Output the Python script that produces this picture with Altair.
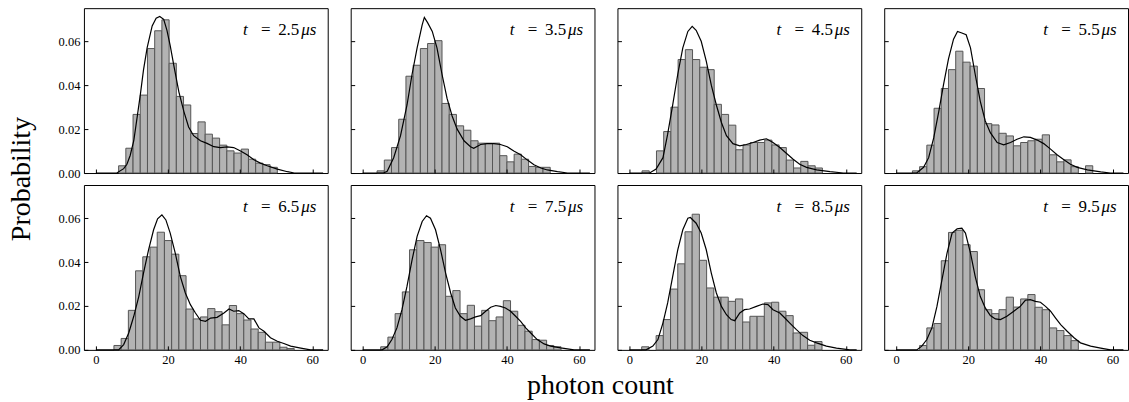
import altair as alt
import pandas as pd

# ---------------- data ----------------
times = ["2.5", "3.5", "4.5", "5.5", "6.5", "7.5", "8.5", "9.5"]
bin_width = 2.0
bin_starts = [6.3, 4.0, 3.5, 4.5, 5.0, 5.0, 3.4, 6.5]

heights_t25 = [0.0033, 0.0113, 0.0267, 0.0355, 0.0567, 0.0648, 0.0698, 0.050, 0.0349, 0.031,
               0.018, 0.0233, 0.0177, 0.0159, 0.0127, 0.0101, 0.0091, 0.0109, 0.0063, 0.0045,
               0.0038, 0.0026]
heights_t35 = [0.001, 0.0059, 0.0116, 0.0245, 0.0441, 0.0491, 0.0567, 0.059, 0.0603, 0.0317,
               0.0267, 0.0215, 0.0195, 0.0147, 0.0136, 0.0136, 0.0136, 0.0079, 0.0051, 0.0086,
               0.0063, 0.003, 0.0026, 0.0026]
heights_t45 = [0.001, 0.0, 0.0101, 0.0189, 0.030, 0.0517, 0.0562, 0.0517, 0.0482, 0.0471,
               0.0313, 0.0267, 0.0218, 0.0106, 0.0128, 0.0139, 0.0139, 0.015, 0.0128, 0.0116,
               0.0059, 0.0023, 0.0053, 0.0033, 0.0023]
heights_t55 = [0.001, 0.0029, 0.0127, 0.0295, 0.0385, 0.0471, 0.0555, 0.0505, 0.0487, 0.0385,
               0.0225, 0.0219, 0.0181, 0.0169, 0.0124, 0.0139, 0.0147, 0.0154, 0.0174, 0.0083,
               0.0051, 0.006, 0.0029, 0.0, 0.0033]
heights_t65 = [0.002, 0.0052, 0.018, 0.036, 0.0424, 0.0468, 0.0536, 0.0498, 0.0436, 0.0338,
               0.0186, 0.0141, 0.015, 0.0188, 0.0174, 0.0114, 0.0202, 0.0165, 0.0136, 0.0095,
               0.008, 0.0035, 0.0035, 0.0012, 0.0006]
heights_t75 = [0.0014, 0.0058, 0.0165, 0.0264, 0.0456, 0.0498, 0.0489, 0.0468, 0.0479, 0.0244,
               0.027, 0.0165, 0.0203, 0.0108, 0.018, 0.0133, 0.015, 0.0224, 0.0176, 0.0112,
               0.0085, 0.0047, 0.0044, 0.002, 0.0014]
heights_t85 = [0.0014, 0.0, 0.0065, 0.0138, 0.0277, 0.0392, 0.0538, 0.0618, 0.0408, 0.0282,
               0.024, 0.024, 0.0221, 0.0232, 0.0127, 0.0153, 0.0153, 0.0214, 0.0217, 0.0176,
               0.0156, 0.0077, 0.008, 0.0021, 0.0038]
heights_t95 = [0.002, 0.01, 0.012, 0.0406, 0.0535, 0.0545, 0.0479, 0.0448, 0.0274, 0.0183,
               0.0165, 0.0183, 0.024, 0.0195, 0.0232, 0.0252, 0.0194, 0.0183, 0.01, 0.0088,
               0.0065, 0.0042]
heights = [heights_t25, heights_t35, heights_t45, heights_t55,
           heights_t65, heights_t75, heights_t85, heights_t95]

curve_t25 = [(0, 0), (5.8, 0), (7.7, 0.002), (8.6, 0.004), (9.5, 0.008), (10.5, 0.0147),
             (11.4, 0.025), (12.3, 0.0355), (13.2, 0.047), (14.2, 0.057), (15.6, 0.067),
             (16.7, 0.0705), (17.7, 0.0713), (18.8, 0.070), (19.7, 0.065), (20.6, 0.058),
             (21.6, 0.049), (23.0, 0.037), (24.4, 0.028), (25.7, 0.021), (27.1, 0.017),
             (29.0, 0.0147), (30.8, 0.0135), (32.7, 0.012), (34.5, 0.0116), (36.4, 0.0119),
             (38.2, 0.0116), (40.1, 0.010), (41.9, 0.0083), (43.8, 0.006), (45.6, 0.0045),
             (47.5, 0.0033), (50.3, 0.0018), (53.1, 0.0006), (55.0, 0.0), (63, 0)]
curve_t35 = [(0, 0), (5.8, 0), (6.8, 0.0008), (8.6, 0.007), (10.5, 0.017), (12.3, 0.031),
             (13.7, 0.045), (15.1, 0.057), (16.5, 0.0675), (17.1, 0.0709), (18.0, 0.0685),
             (19.3, 0.0645), (20.6, 0.057), (22.0, 0.045), (23.4, 0.034), (24.8, 0.026),
             (26.2, 0.020), (28.1, 0.0147), (29.9, 0.012), (30.8, 0.0113), (32.7, 0.013),
             (34.5, 0.0134), (36.4, 0.0134), (38.2, 0.013), (40.1, 0.012), (41.9, 0.010),
             (43.8, 0.0083), (45.6, 0.006), (47.5, 0.0038), (49.4, 0.0023), (51.2, 0.0014),
             (54.0, 0.0006), (56.8, 0), (63, 0)]
curve_t45 = [(0, 0), (5.6, 0), (7.4, 0.0018), (9.3, 0.007), (10.6, 0.0177), (12.0, 0.031),
             (13.4, 0.045), (14.8, 0.057), (16.2, 0.0645), (17.4, 0.0668), (18.5, 0.065),
             (19.9, 0.060), (21.3, 0.051), (22.7, 0.040), (24.1, 0.031), (25.5, 0.023),
             (26.9, 0.017), (28.7, 0.0134), (30.6, 0.0124), (32.4, 0.013), (34.3, 0.0139),
             (36.1, 0.015), (38.0, 0.0156), (39.8, 0.0139), (41.7, 0.0116), (43.5, 0.009),
             (45.4, 0.0063), (47.2, 0.004), (49.1, 0.0026), (51.9, 0.0014), (55.6, 0.0006),
             (59.3, 0), (63, 0)]
curve_t55 = [(0, 0), (5.7, 0), (7.6, 0.0026), (9.0, 0.007), (10.4, 0.016), (11.8, 0.028),
             (13.1, 0.040), (14.5, 0.052), (15.9, 0.061), (17.0, 0.0645), (18.2, 0.0638),
             (19.4, 0.063), (20.6, 0.057), (21.9, 0.045), (23.3, 0.0328), (24.7, 0.0237),
             (26.1, 0.0184), (28.0, 0.0139), (29.8, 0.0128), (31.7, 0.0139), (33.5, 0.0154),
             (35.4, 0.0165), (37.2, 0.0162), (39.1, 0.015), (40.9, 0.0134), (42.8, 0.0109),
             (44.6, 0.0083), (46.5, 0.006), (48.3, 0.004), (50.2, 0.0026), (53.0, 0.0014),
             (56.7, 0.0005), (59.4, 0), (63, 0)]
curve_t65 = [(0, 0), (6.3, 0), (7.7, 0.0024), (9.1, 0.0077), (10.5, 0.0153), (11.9, 0.0244),
             (13.2, 0.035), (14.6, 0.0456), (16.0, 0.0547), (17.1, 0.0597), (18.3, 0.0615),
             (19.4, 0.0592), (20.6, 0.0532), (22.0, 0.0441), (23.4, 0.0335), (24.8, 0.0259),
             (26.2, 0.0206), (27.6, 0.0168), (29.0, 0.0135), (30.4, 0.013), (31.8, 0.0145),
             (33.6, 0.0148), (35.5, 0.0168), (36.9, 0.0186), (38.2, 0.0176), (39.6, 0.0179),
             (41.0, 0.0165), (42.4, 0.0141), (43.8, 0.0141), (45.2, 0.01), (46.6, 0.0085),
             (48.4, 0.0055), (50.3, 0.0039), (52.1, 0.0029), (54.0, 0.0017), (56.8, 0.0008),
             (59.5, 0), (63, 0)]
curve_t75 = [(0, 0), (5.4, 0), (6.8, 0.0014), (8.1, 0.0047), (9.5, 0.01), (10.9, 0.0183),
             (12.3, 0.029), (13.7, 0.041), (15.1, 0.0517), (16.5, 0.0585), (17.7, 0.0611),
             (18.8, 0.060), (20.2, 0.0547), (21.6, 0.0456), (23.0, 0.035), (24.4, 0.0259),
             (25.7, 0.0191), (27.1, 0.0153), (28.5, 0.0135), (29.9, 0.0141), (31.3, 0.015),
             (32.7, 0.0156), (34.1, 0.0176), (35.5, 0.0194), (36.9, 0.0202), (38.2, 0.0198),
             (39.6, 0.0191), (41.0, 0.0176), (42.4, 0.0153), (43.8, 0.013), (45.2, 0.01),
             (46.6, 0.0077), (48.4, 0.0047), (50.3, 0.0027), (52.1, 0.0017), (54.9, 0.0009),
             (58.6, 0), (63, 0)]
curve_t85 = [(0, 0), (4.6, 0), (6.5, 0.0017), (7.9, 0.0047), (9.3, 0.0123), (10.6, 0.0214),
             (12.0, 0.0335), (13.4, 0.0456), (14.8, 0.0547), (16.2, 0.060), (16.9, 0.0603),
             (18.5, 0.0577), (19.9, 0.0532), (21.3, 0.0456), (22.7, 0.035), (24.1, 0.0259),
             (25.5, 0.0198), (26.9, 0.016), (28.2, 0.0138), (29.2, 0.0133), (30.6, 0.0168),
             (31.9, 0.0183), (33.3, 0.0186), (35.2, 0.0198), (37.0, 0.0209), (38.4, 0.0206),
             (39.8, 0.0183), (41.7, 0.0168), (43.1, 0.0145), (44.4, 0.0123), (46.3, 0.0092),
             (48.1, 0.0065), (50.0, 0.0044), (51.9, 0.0032), (54.6, 0.0017), (57.4, 0.0008),
             (61.1, 0), (63, 0)]
curve_t95 = [(0, 0), (5.7, 0), (7.1, 0.0017), (8.5, 0.0047), (9.9, 0.01), (11.3, 0.0198),
             (12.7, 0.032), (14.1, 0.0441), (15.5, 0.0532), (16.9, 0.0552), (18.2, 0.0555),
             (19.2, 0.0532), (20.6, 0.0441), (21.9, 0.0335), (23.3, 0.0244), (24.7, 0.0191),
             (26.1, 0.0156), (27.5, 0.0141), (28.9, 0.0138), (30.7, 0.0153), (32.6, 0.0176),
             (34.4, 0.0198), (35.8, 0.0226), (37.2, 0.0229), (38.6, 0.0221), (40.0, 0.0217),
             (41.4, 0.0198), (42.8, 0.0176), (44.2, 0.0145), (45.6, 0.0115), (47.4, 0.0085),
             (49.3, 0.0055), (51.1, 0.0032), (53.9, 0.0017), (56.7, 0.0008), (59.4, 0), (63, 0)]
curves = [curve_t25, curve_t35, curve_t45, curve_t55,
          curve_t65, curve_t75, curve_t85, curve_t95]

x_ticks = [0, 20, 40, 60]
y_ticks = [0.0, 0.02, 0.04, 0.06]

# ---------------- layout / style ----------------
W, H = 244, 165
X_DOMAIN = [-3.32, 64.27]
Y_DOMAIN = [0, 0.0751]
SERIF = "Liberation Serif"


def text_piece(value, xpos, italic, size=17, ypos=27, angle=0):
    df = pd.DataFrame({"s": [value]})
    kw = dict(font=SERIF, fontSize=size, align="center", baseline="alphabetic",
              color="black", fontStyle="italic" if italic else "normal")
    if angle:
        kw["angle"] = angle
    return alt.Chart(df).mark_text(**kw).encode(
        text="s:N", x=alt.value(xpos), y=alt.value(ypos))


def make_panel(i):
    row, col = divmod(i, 4)
    start = bin_starts[i]
    hs = heights[i]
    bars_df = pd.DataFrame({
        "left": [start + k * bin_width for k in range(len(hs))],
        "prob": hs,
    })
    bars_df["right"] = bars_df["left"] + bin_width
    bars_df["base"] = 0.0
    bars_df = bars_df[bars_df["prob"] > 0]
    curve_df = pd.DataFrame(curves[i], columns=["count", "density"])

    xscale = alt.Scale(domain=X_DOMAIN, nice=False, zero=False)
    yscale = alt.Scale(domain=Y_DOMAIN, nice=False)
    xaxis = alt.Axis(values=x_ticks, labels=(row == 1), format="d", tickSize=4,
                     offset=-4, domain=False, grid=False, labelPadding=4, zindex=1)
    yaxis = alt.Axis(values=y_ticks, labels=(col == 0), format=".2f", tickSize=4,
                     offset=-4, domain=False, grid=False, labelPadding=4, zindex=1)

    bars = alt.Chart(bars_df).mark_bar(
        fill="#b3b3b3", stroke="#555555", strokeWidth=1, fillOpacity=1
    ).encode(
        x=alt.X("left:Q", scale=xscale, axis=xaxis, title=None),
        x2="right:Q",
        y=alt.Y("prob:Q", scale=yscale, axis=yaxis, title=None),
        y2="base:Q",
    )
    line = alt.Chart(curve_df).mark_line(color="black", strokeWidth=1.2).encode(
        x=alt.X("count:Q", scale=xscale, axis=xaxis, title=None),
        y=alt.Y("density:Q", scale=yscale, axis=yaxis, title=None),
    )
    layers = [bars, line,
              text_piece("t", 161.5, True),
              text_piece("=", 182, False),
              text_piece(times[i], 205, False),
              text_piece("μs", 225, True)]
    if i == 0:
        layers.append(text_piece("Probability", -54, False, size=28, ypos=171, angle=270))
    if i == 4:
        layers.append(text_piece("photon count", 517, False, size=28, ypos=209))
    return alt.layer(*layers).properties(width=W, height=H)


panels = [make_panel(i) for i in range(8)]

chart = alt.concat(
    *panels, columns=4, spacing={"row": 12, "column": 23}, bounds="flush"
).properties(
    padding={"left": 7, "top": 7, "right": 0, "bottom": 0}
).configure_view(
    stroke="black", strokeWidth=1
).configure_axis(
    labelFont=SERIF, labelFontSize=12.5, labelColor="black",
    tickColor="black", tickWidth=1
)

chart.save("out.html", embed_options={"renderer": "svg", "actions": False})
